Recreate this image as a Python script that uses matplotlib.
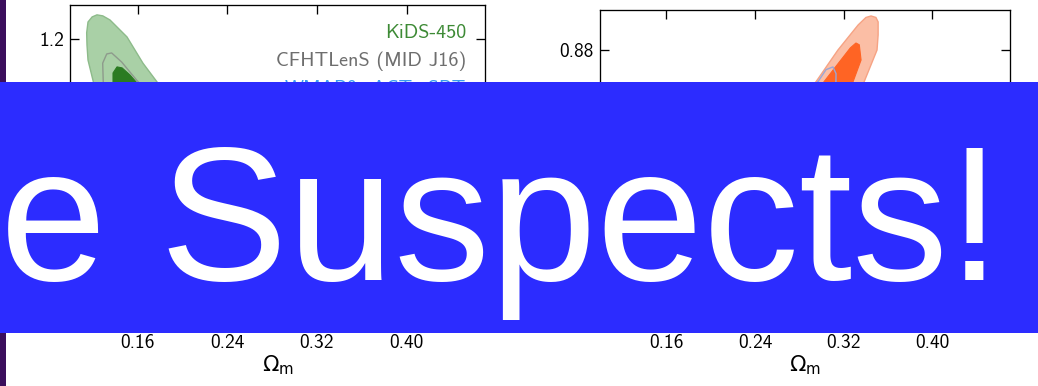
import matplotlib
matplotlib.use("Agg")
import matplotlib.pyplot as plt
from matplotlib.patches import Rectangle

W, H, DPI = 1038, 386, 100

# ---- axis ticks -------------------------------------------------------------
om_ticks = [0.16, 0.24, 0.32, 0.40]
om_ticklabels = ["0.16", "0.24", "0.32", "0.40"]
sig8_ticks = [1.2]
sig8_ticklabels = ["1.2"]
s8_ticks = [0.88]
s8_ticklabels = ["0.88"]

# ---- legend entries (left panel) ---------------------------------------------
legend_labels = ["KiDS-450", "CFHTLenS (MID J16)", "WMAP9+ACT+SPT"]
legend_colors = ["#3d8a35", "#6e6e6e", "#3a9bf0"]

# ---- contour outlines, Omega_m vs sigma_8 ------------------------------------
kids95_om = [0.1215, 0.1202, 0.1158, 0.1149, 0.1146, 0.1158, 0.1195, 0.1238,
             0.1290, 0.1354, 0.1506, 0.1648, 0.1773, 0.20, 0.24, 0.30, 0.38,
             0.44, 0.45, 0.40, 0.32, 0.25, 0.19, 0.15, 0.13]
kids95_s8 = [1.060, 1.079, 1.138, 1.182, 1.218, 1.250, 1.265, 1.271,
             1.268, 1.256, 1.206, 1.129, 1.074, 0.98, 0.87, 0.76, 0.66,
             0.60, 0.56, 0.57, 0.62, 0.70, 0.82, 0.93, 1.00]

kids68_om = [0.1381, 0.1381, 0.1417, 0.1462, 0.1533, 0.1586, 0.19, 0.25,
             0.30, 0.28, 0.21, 0.16]
kids68_s8 = [1.060, 1.100, 1.118, 1.115, 1.094, 1.074, 0.96, 0.84,
             0.77, 0.76, 0.86, 0.97]

cfht_om = [0.1310, 0.1294, 0.1289, 0.1325, 0.1369, 0.1459, 0.1592, 0.17,
           0.22, 0.30, 0.38, 0.36, 0.28, 0.20, 0.15]
cfht_s8 = [1.060, 1.074, 1.129, 1.156, 1.159, 1.132, 1.079, 1.04,
           0.90, 0.76, 0.68, 0.66, 0.74, 0.86, 0.98]

# ---- contour outlines, Omega_m vs S_8 ----------------------------------------
planck95_om = [0.2948, 0.3147, 0.3330, 0.3400, 0.3446, 0.3490, 0.3510,
               0.3510, 0.3500, 0.3383, 0.33, 0.31, 0.29, 0.27, 0.27, 0.28]
planck95_s8 = [0.8476, 0.8797, 0.9050, 0.9125, 0.9140, 0.9125, 0.9080,
               0.8950, 0.8797, 0.8476, 0.83, 0.80, 0.79, 0.80, 0.82, 0.83]

planck68_om = [0.3020, 0.3174, 0.3260, 0.3310, 0.3340, 0.3356, 0.3283,
               0.31, 0.295, 0.29]
planck68_s8 = [0.8476, 0.8697, 0.8820, 0.8868, 0.8850, 0.8697, 0.8476,
               0.82, 0.815, 0.825]

wmap_om = [0.2966, 0.3040, 0.3102, 0.3130, 0.3129, 0.30, 0.27, 0.25,
           0.26, 0.28]
wmap_s8 = [0.8476, 0.8600, 0.8627, 0.8560, 0.8476, 0.80, 0.76, 0.77,
           0.80, 0.83]

banner_text = "e Suspects!"

plt.rcParams["axes.formatter.use_mathtext"] = False
plt.rcParams["mathtext.fontset"] = "dejavusans"

fig = plt.figure(figsize=(W / DPI, H / DPI), dpi=DPI)
fig.patch.set_facecolor("white")


def px_box(x0, x1, y_top, y_bot):
    return [x0 / W, 1 - y_bot / H, (x1 - x0) / W, (y_bot - y_top) / H]


def style_axes(ax, yticks, ylabels):
    ax.set_xticks(om_ticks)
    ax.set_xticklabels(om_ticklabels, family="cmss10", fontsize=14)
    ax.set_yticks(yticks)
    ax.set_yticklabels(ylabels, family="cmss10", fontsize=14)
    ax.tick_params(direction="in", length=6.5, width=0.95, pad=4.5,
                   top=True, right=True, colors="black")
    for s in ax.spines.values():
        s.set_linewidth(0.95)
    ax.set_xlabel(r"$\Omega_{\mathrm{m}}$", fontsize=15.5, labelpad=1)


axL = fig.add_axes(px_box(70.3, 485, 5, 328))
axL.set_xlim(0.10, 0.47)
axL.set_ylim(0.35, 1.30)
axL.fill(kids95_om, kids95_s8, facecolor="#a9d0a6", edgecolor="#8dbb8a", lw=1.0)
axL.plot(cfht_om + cfht_om[:1], cfht_s8 + cfht_s8[:1], color="#8e9a8c", lw=1.0)
axL.fill(kids68_om, kids68_s8, facecolor="#2b7b22", edgecolor="#2b7b22", lw=0.8)
style_axes(axL, sig8_ticks, sig8_ticklabels)

legend_baselines_px = [37.5, 66.0, 94.0]
for lab, col, yb in zip(legend_labels, legend_colors, legend_baselines_px):
    axL.text(0.954, (328 - yb) / 323, lab, transform=axL.transAxes,
             ha="right", va="baseline", color=col, family="cmss10", fontsize=14.5)

axR = fig.add_axes(px_box(600, 1010, 10, 328))
axR.set_xlim(0.10, 0.47)
axR.set_ylim(0.60, 0.92)
axR.fill(planck95_om, planck95_s8, facecolor="#fbbea5", edgecolor="#f6a384", lw=1.0)
axR.fill(planck68_om, planck68_s8, facecolor="#ff6424", edgecolor="#ff6424", lw=0.8)
axR.plot(wmap_om + wmap_om[:1], wmap_s8 + wmap_s8[:1], color="#9aa6d6", lw=1.0)
style_axes(axR, s8_ticks, s8_ticklabels)

# dark backdrop strip along the left edge
fig.patches.append(Rectangle((0, 0), 6 / W, 1, transform=fig.transFigure,
                             facecolor="#3b0e5c", edgecolor="none", zorder=5))
# title banner across the figure
fig.patches.append(Rectangle((0, 1 - 333 / H), 1, 251 / H, transform=fig.transFigure,
                             facecolor="#2c2cff", edgecolor="none", zorder=10))
fig.text(0.0, 1 - 279.5 / H, banner_text, color="white", family="Liberation Sans",
         fontsize=138, ha="left", va="baseline", zorder=11)

fig.savefig("out.png", dpi=DPI, facecolor="white")
